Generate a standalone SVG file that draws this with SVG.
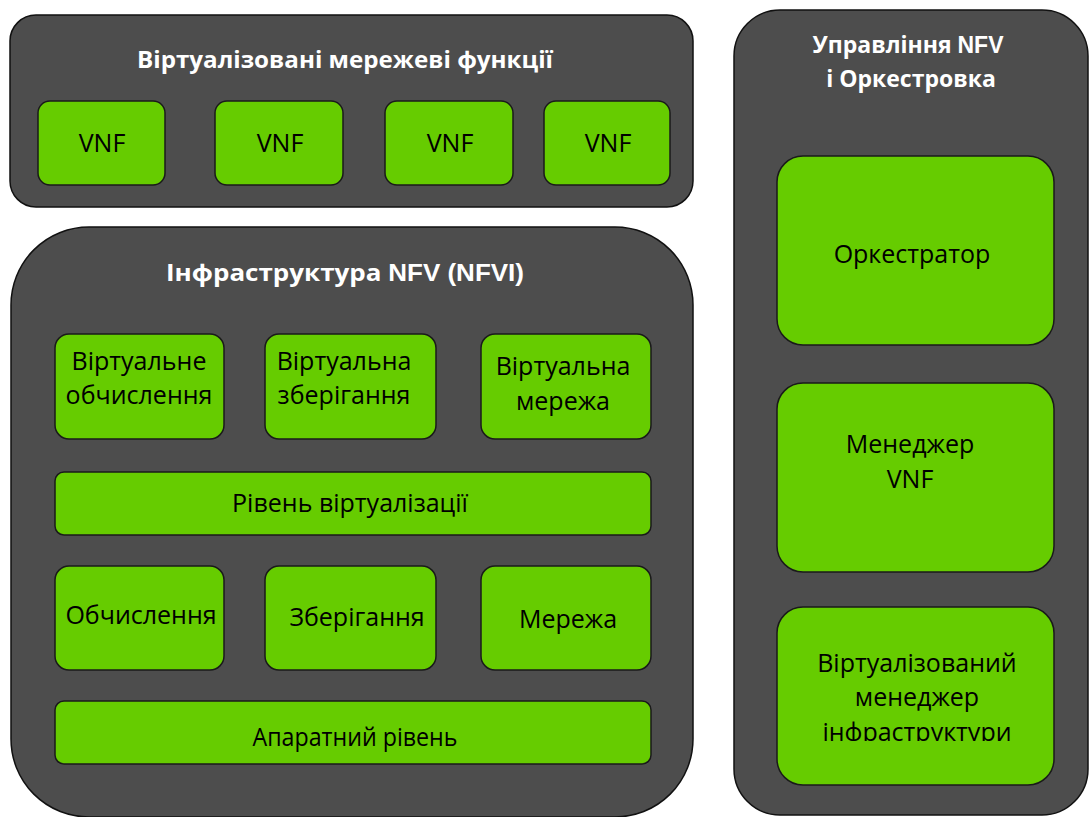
<svg xmlns="http://www.w3.org/2000/svg" width="1091" height="817" viewBox="0 0 1091 817">
  <style>
    .panel { fill: #4d4d4d; stroke: #111; stroke-width: 1.5; }
    .box { fill: #66cc00; stroke: #1a1a1a; stroke-width: 1.5; }
    .title { font-family: "Open Sans", "Noto Sans", sans-serif; font-weight: bold; font-size: 23px; fill: #ffffff; text-anchor: middle; }
    .latin { font-family: "Liberation Sans", Arial, sans-serif; }
    .label { font-family: "Open Sans", "Noto Sans", sans-serif; font-size: 25px; fill: #000; text-anchor: middle; }
  </style>
  <defs>
    <clipPath id="vimClip">
      <rect x="777" y="607" width="278" height="134"/>
    </clipPath>
  </defs>
  <rect width="1091" height="817" fill="#ffffff"/>

  <!-- Virtualised network functions -->
  <g id="vnf-layer">
    <rect class="panel" x="10" y="15" width="683" height="192" rx="26"/>
    <text class="title" x="345" y="68" textLength="416" lengthAdjust="spacingAndGlyphs">Віртуалізовані мережеві функції</text>
  </g>
  <g id="vnf1"><rect class="box" x="38" y="101" width="127" height="84" rx="12"/><text class="label" x="102" y="152">VNF</text></g>
  <g id="vnf2"><rect class="box" x="215" y="101" width="128" height="84" rx="12"/><text class="label" x="280" y="152">VNF</text></g>
  <g id="vnf3"><rect class="box" x="385" y="101" width="128" height="84" rx="12"/><text class="label" x="450" y="152">VNF</text></g>
  <g id="vnf4"><rect class="box" x="544" y="101" width="126" height="84" rx="12"/><text class="label" x="608" y="152">VNF</text></g>

  <!-- NFV infrastructure -->
  <g id="nfvi">
    <rect class="panel" x="11" y="227" width="682" height="590" rx="78"/>
    <text class="title" x="345" y="281" textLength="358" lengthAdjust="spacingAndGlyphs">Інфраструктура <tspan class="latin">NFV (NFVI)</tspan></text>
  </g>
  <g id="virtual-compute">
    <rect class="box" x="55" y="334" width="169" height="105" rx="14"/>
    <text class="label" x="139" y="370">Віртуальне</text>
    <text class="label" x="139" y="404">обчислення</text>
  </g>
  <g id="virtual-storage">
    <rect class="box" x="265" y="334" width="171" height="105" rx="14"/>
    <text class="label" x="344" y="370">Віртуальна</text>
    <text class="label" x="344" y="404">зберігання</text>
  </g>
  <g id="virtual-network">
    <rect class="box" x="481" y="334" width="170" height="105" rx="14"/>
    <text class="label" x="563" y="375">Віртуальна</text>
    <text class="label" x="563" y="410">мережа</text>
  </g>
  <g id="virtualisation-layer">
    <rect class="box" x="55" y="472" width="596" height="63" rx="9"/>
    <text class="label" x="350" y="512">Рівень віртуалізації</text>
  </g>
  <g id="compute">
    <rect class="box" x="55" y="566" width="169" height="104" rx="14"/>
    <text class="label" x="141" y="624">Обчислення</text>
  </g>
  <g id="storage">
    <rect class="box" x="265" y="566" width="171" height="104" rx="14"/>
    <text class="label" x="357" y="626">Зберігання</text>
  </g>
  <g id="network">
    <rect class="box" x="481" y="566" width="170" height="104" rx="14"/>
    <text class="label" x="568" y="628">Мережа</text>
  </g>
  <g id="hardware-layer">
    <rect class="box" x="55" y="701" width="596" height="63" rx="9"/>
    <text class="label" x="355" y="746" textLength="205" lengthAdjust="spacingAndGlyphs">Апаратний рівень</text>
  </g>

  <!-- NFV management and orchestration -->
  <g id="mano">
    <rect class="panel" x="734" y="10" width="354" height="805" rx="46"/>
    <text class="title" x="908" y="53" textLength="191" lengthAdjust="spacingAndGlyphs">Управління <tspan class="latin">NFV</tspan></text>
    <text class="title" x="911" y="87">і Оркестровка</text>
  </g>
  <g id="orchestrator">
    <rect class="box" x="777" y="156" width="277" height="189" rx="26"/>
    <text class="label" x="912" y="263">Оркестратор</text>
  </g>
  <g id="vnf-manager">
    <rect class="box" x="777" y="383" width="277" height="189" rx="26"/>
    <text class="label" x="910" y="453">Менеджер</text>
    <text class="label" x="910" y="488">VNF</text>
  </g>
  <g id="vim">
    <rect class="box" x="777" y="607" width="277" height="178" rx="26"/>
    <text class="label" x="917" y="672">Віртуалізований</text>
    <text class="label" x="917" y="706">менеджер</text>
    <text class="label" x="917" y="741" clip-path="url(#vimClip)">інфраструктури</text>
  </g>
</svg>
